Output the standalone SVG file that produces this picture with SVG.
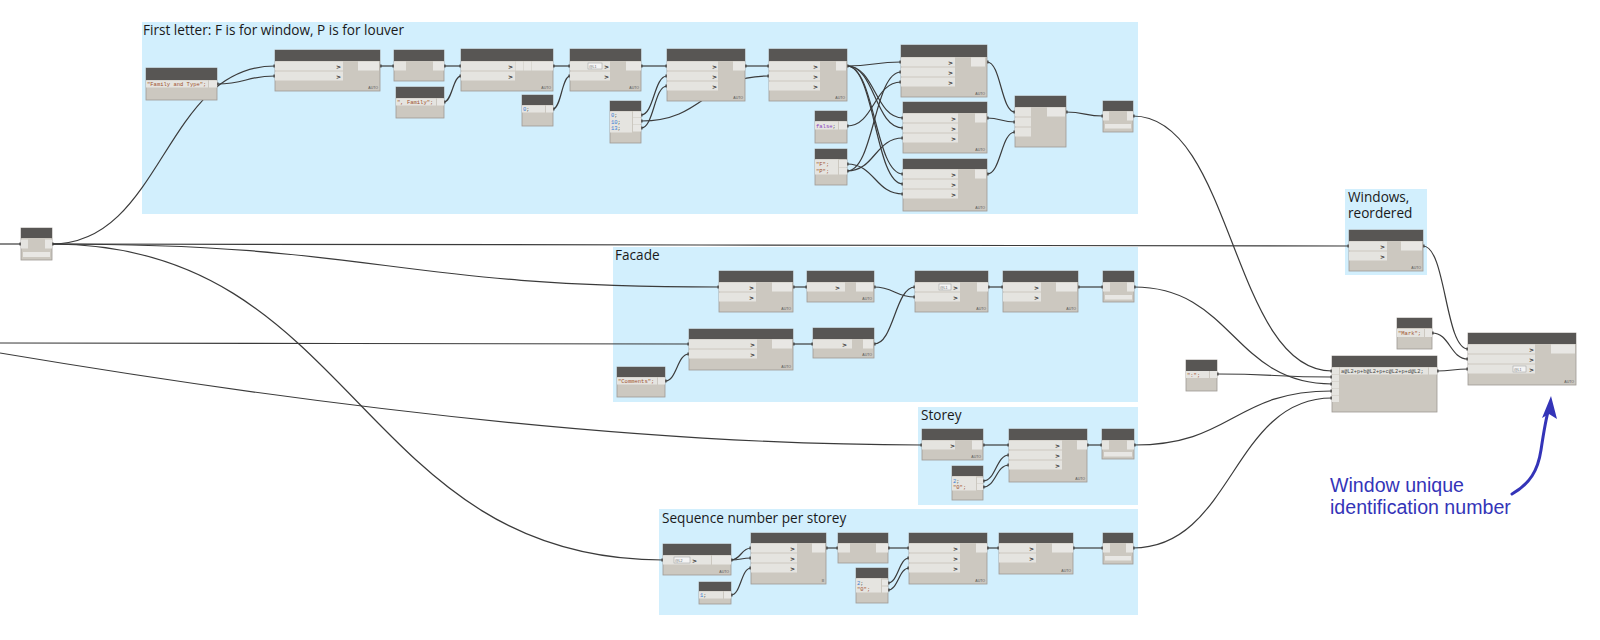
<svg xmlns="http://www.w3.org/2000/svg" width="1600" height="640" viewBox="0 0 1600 640">
<defs>
<style>
.grp{fill:#d2effd}
.gtit{font-family:"Open Sans","Noto Sans",sans-serif;font-size:13.6px;fill:#1a1a1a}
.nb{fill:#ccc8c0;stroke:#9e9a94;stroke-width:0.8}
.nh{fill:#585654}
.r{fill:#e5e4e0}
.o{fill:#e8e7e4}
.gt{font-family:"DejaVu Sans",sans-serif;font-size:6px;font-weight:bold;fill:#333}
.au{font-family:"Liberation Sans",sans-serif;font-size:3.5px;fill:#555}
.cs{font-family:"Liberation Mono",monospace;font-size:5.5px;fill:#a0522d}
.cn{font-family:"Liberation Mono",monospace;font-size:5.5px;fill:#3a7fd5}
.cf{font-family:"Liberation Mono",monospace;font-size:5.5px;fill:#8a3fbf}
.cx{font-family:"Liberation Mono",monospace;font-size:5.3px;fill:#444}
.lw{fill:#f4f4f4;stroke:#999;stroke-width:0.5}
.lt{font-family:"Liberation Sans",sans-serif;font-size:3.5px;fill:#666}
.bar{fill:#e8e7e4}
.w{fill:none;stroke:#3b3b3b;stroke-width:1.2;marker-end:url(#pt)}
.ws{marker-start:url(#pt)}
.ann{font-family:"Liberation Sans",Arial,sans-serif;font-size:19.6px;fill:#3434b8}
</style>
<marker id="pt" markerUnits="userSpaceOnUse" markerWidth="4" markerHeight="4" refX="2" refY="2" orient="auto">
<rect x="0.5" y="0.5" width="3" height="3" fill="#333"/>
</marker>
</defs>
<rect width="1600" height="640" fill="#ffffff"/>

<!-- groups -->
<g id="group-first-letter">
<rect class="grp" x="142" y="22" width="996" height="192"/>
<text class="gtit" x="143" y="35">First letter: F is for window, P is for louver</text>
</g>
<g id="group-windows-reordered">
<rect class="grp" x="1345" y="189" width="82" height="86"/>
<text class="gtit" x="1348" y="202">Windows,</text>
<text class="gtit" x="1348" y="218">reordered</text>
</g>
<g id="group-facade">
<rect class="grp" x="613" y="247" width="525" height="155"/>
<text class="gtit" x="615" y="260">Facade</text>
</g>
<g id="group-storey">
<rect class="grp" x="918" y="407" width="220" height="98"/>
<text class="gtit" x="921" y="420">Storey</text>
</g>
<g id="group-sequence">
<rect class="grp" x="659" y="509" width="479" height="106"/>
<text class="gtit" x="662" y="523">Sequence number per storey</text>
</g>

<!-- connectors -->
<g id="connectors">
<path class="w" d="M0,244 L21,244"/>
<path class="w ws" d="M52,244 C163,244 164,66 275,66"/>
<path class="w ws" d="M217,84 C246,84 246,76 275,76"/>
<path class="w ws" d="M380,66 L394,66"/>
<path class="w ws" d="M444,66 L461,66"/>
<path class="w ws" d="M444,102 C452,102 453,76 461,76"/>
<path class="w ws" d="M553,66 L570,66"/>
<path class="w ws" d="M553,109 C561,109 562,76 570,76"/>
<path class="w ws" d="M641,66 L667,66"/>
<path class="w ws" d="M641,115 C654,115 654,76 667,76"/>
<path class="w ws" d="M641,121 C705,121 705,76 769,76"/>
<path class="w ws" d="M641,128 C654,128 654,86 667,86"/>
<path class="w ws" d="M745,66 L769,66"/>
<path class="w ws" d="M847,66 C874,66 874,62 901,62"/>
<path class="w" d="M847,66 C875,66 875,118 903,118"/>
<path class="w" d="M847,66 C875,66 875,128 903,128"/>
<path class="w" d="M847,66 C875,66 875,174 903,174"/>
<path class="w" d="M847,66 C875,66 875,184 903,184"/>
<path class="w ws" d="M847,126 C874,126 874,82 901,82"/>
<path class="w ws" d="M847,171 C874,171 874,72 901,72"/>
<path class="w" d="M847,171 C875,171 875,138 903,138"/>
<path class="w ws" d="M847,164 C875,164 875,194 903,194"/>
<path class="w ws" d="M987,62 C1001,62 1001,112 1015,112"/>
<path class="w ws" d="M987,118 C1001,118 1001,122 1015,122"/>
<path class="w ws" d="M987,174 C1001,174 1001,132 1015,132"/>
<path class="w ws" d="M1066,112 C1085,112 1085,116 1103,116"/>
<path class="w ws" d="M1133,116 C1233,116 1232,371 1332,371"/>
<path class="w" d="M52,244 C700,244 700,246 1349,246"/>
<path class="w" d="M52,244 C385,244 386,287 719,287"/>
<path class="w" d="M52,244 C357,244 358,560 663,560"/>
<path class="w" d="M0,343 C340,343 350,344 689,344"/>
<path class="w" d="M0,353 C250,395 600,445 922,445"/>
<path class="w ws" d="M665,381 C677,381 677,354 689,354"/>
<path class="w ws" d="M793,287 L807,287"/>
<path class="w ws" d="M793,344 L813,344"/>
<path class="w ws" d="M874,287 C894,287 895,297 915,297"/>
<path class="w ws" d="M874,344 C894,344 895,287 915,287"/>
<path class="w ws" d="M988,287 L1003,287"/>
<path class="w ws" d="M1078,287 L1103,287"/>
<path class="w ws" d="M1134,287 C1233,287 1233,384 1332,384"/>
<path class="w ws" d="M983,445 L1009,445"/>
<path class="w ws" d="M983,481 C996,481 996,455 1009,455"/>
<path class="w ws" d="M983,487 C996,487 996,465 1009,465"/>
<path class="w ws" d="M1087,445 L1102,445"/>
<path class="w ws" d="M1134,445 C1233,445 1233,391 1332,391"/>
<path class="w ws" d="M731,560 C741,560 741,548 751,548"/>
<path class="w" d="M731,560 C741,560 741,558 751,558"/>
<path class="w ws" d="M731,595 C741,595 741,568 751,568"/>
<path class="w ws" d="M826,548 L838,548"/>
<path class="w ws" d="M888,548 L909,548"/>
<path class="w ws" d="M888,583 C898,583 899,558 909,558"/>
<path class="w ws" d="M888,590 C898,590 899,568 909,568"/>
<path class="w ws" d="M987,548 L999,548"/>
<path class="w ws" d="M1073,548 L1103,548"/>
<path class="w ws" d="M1133,548 C1233,548 1232,398 1332,398"/>
<path class="w ws" d="M1217,374 C1275,374 1274,377 1332,377"/>
<path class="w ws" d="M1437,371 C1452,371 1453,369 1468,369"/>
<path class="w ws" d="M1423,246 C1446,246 1445,349 1468,349"/>
<path class="w ws" d="M1432,333 C1450,333 1450,359 1468,359"/>
</g>

<!-- input node -->
<g id="node-input">
<rect class="nb" x="21" y="228" width="31" height="32"/>
<rect class="nh" x="21" y="228" width="31" height="10"/>
<rect class="r" x="21" y="239.5" width="7" height="9"/>
<rect class="o" x="45" y="239.5" width="7" height="9"/>
<rect class="bar" x="23" y="252" width="27" height="5"/>
</g>

<!-- First letter group nodes -->
<g id="node-family-type">
<rect class="nb" x="146" y="68" width="71" height="32"/>
<rect class="nh" x="146" y="68" width="71" height="12"/>
<rect class="r" x="146" y="80.5" width="62" height="7"/>
<rect class="o" x="209" y="80.5" width="8" height="7"/>
<text class="cs" x="147" y="86">"Family and Type";</text>
</g>
<g id="node-a">
<rect class="nb" x="275" y="50" width="105" height="41"/>
<rect class="nh" x="275" y="50" width="105" height="11"/>
<rect class="r" x="275" y="61.5" width="68" height="9"/>
<rect class="r" x="275" y="71.5" width="68" height="9"/>
<text class="gt" x="341" y="68.5" text-anchor="end">&gt;</text>
<text class="gt" x="341" y="78.5" text-anchor="end">&gt;</text>
<rect class="o" x="358" y="61.5" width="21" height="9"/>
<text class="au" x="378" y="89" text-anchor="end">AUTO</text>
</g>
<g id="node-b">
<rect class="nb" x="394" y="50" width="50" height="31"/>
<rect class="nh" x="394" y="50" width="50" height="11"/>
<rect class="r" x="394" y="61.5" width="12" height="9"/>
<rect class="o" x="433" y="61.5" width="11" height="9"/>
</g>
<g id="node-family">
<rect class="nb" x="396" y="87" width="48" height="31"/>
<rect class="nh" x="396" y="87" width="48" height="11"/>
<rect class="r" x="396" y="98.5" width="40" height="7"/>
<rect class="o" x="437" y="98.5" width="7" height="7"/>
<text class="cs" x="397" y="104">", Family";</text>
</g>
<g id="node-c">
<rect class="nb" x="461" y="49" width="92" height="42"/>
<rect class="nh" x="461" y="49" width="92" height="12"/>
<rect class="r" x="461" y="61.5" width="54" height="9"/>
<rect class="r" x="461" y="71.5" width="54" height="9"/>
<text class="gt" x="513" y="68.5" text-anchor="end">&gt;</text>
<text class="gt" x="513" y="78.5" text-anchor="end">&gt;</text>
<rect class="o" x="515.5" y="61.5" width="7.5" height="9"/>
<rect class="o" x="523.5" y="61.5" width="8" height="9"/>
<rect class="o" x="532" y="61.5" width="21" height="9"/>
<text class="au" x="551" y="89" text-anchor="end">AUTO</text>
</g>
<g id="node-zero">
<rect class="nb" x="522" y="95" width="31" height="31"/>
<rect class="nh" x="522" y="95" width="31" height="10"/>
<rect class="r" x="522" y="105.5" width="23" height="7"/>
<rect class="o" x="546" y="105.5" width="7" height="7"/>
<text class="cn" x="523" y="111">0<tspan class="cx">;</tspan></text>
</g>
<g id="node-d">
<rect class="nb" x="570" y="49" width="71" height="42"/>
<rect class="nh" x="570" y="49" width="71" height="12"/>
<rect class="r" x="570" y="61.5" width="40" height="9"/>
<rect class="r" x="570" y="71.5" width="40" height="9"/>
<rect class="lw" x="588" y="63" width="14" height="6"/>
<text class="lt" x="589" y="67.5">@L1</text>
<text class="gt" x="609" y="68.5" text-anchor="end">&gt;</text>
<text class="gt" x="609" y="78.5" text-anchor="end">&gt;</text>
<rect class="o" x="626" y="61.5" width="15" height="9"/>
<text class="au" x="639" y="89" text-anchor="end">AUTO</text>
</g>
<g id="node-numbers">
<rect class="nb" x="610" y="101" width="31" height="42"/>
<rect class="nh" x="610" y="101" width="31" height="10"/>
<rect class="r" x="610" y="111.5" width="22" height="21"/>
<rect class="o" x="633" y="111.5" width="8" height="6"/>
<rect class="o" x="633" y="118" width="8" height="6"/>
<rect class="o" x="633" y="124.5" width="8" height="7"/>
<text class="cn" x="611" y="117">0<tspan class="cx">;</tspan></text>
<text class="cn" x="611" y="123.5">10<tspan class="cx">;</tspan></text>
<text class="cn" x="611" y="130">13<tspan class="cx">;</tspan></text>
</g>
<g id="node-e">
<rect class="nb" x="667" y="49" width="78" height="52"/>
<rect class="nh" x="667" y="49" width="78" height="12"/>
<rect class="r" x="667" y="61.5" width="51" height="9"/>
<rect class="r" x="667" y="71.5" width="51" height="9"/>
<rect class="r" x="667" y="81.5" width="51" height="9"/>
<text class="gt" x="717" y="68.5" text-anchor="end">&gt;</text>
<text class="gt" x="717" y="78.5" text-anchor="end">&gt;</text>
<text class="gt" x="717" y="88.5" text-anchor="end">&gt;</text>
<rect class="o" x="733" y="61.5" width="12" height="9"/>
<text class="au" x="743" y="99" text-anchor="end">AUTO</text>
</g>
<g id="node-f">
<rect class="nb" x="769" y="49" width="78" height="52"/>
<rect class="nh" x="769" y="49" width="78" height="12"/>
<rect class="r" x="769" y="61.5" width="51" height="9"/>
<rect class="r" x="769" y="71.5" width="51" height="9"/>
<rect class="r" x="769" y="81.5" width="51" height="9"/>
<text class="gt" x="818" y="68.5" text-anchor="end">&gt;</text>
<text class="gt" x="818" y="78.5" text-anchor="end">&gt;</text>
<text class="gt" x="818" y="88.5" text-anchor="end">&gt;</text>
<rect class="o" x="836" y="61.5" width="10" height="9"/>
<text class="au" x="845" y="99" text-anchor="end">AUTO</text>
</g>
<g id="node-false">
<rect class="nb" x="815" y="111" width="32" height="32"/>
<rect class="nh" x="815" y="111" width="32" height="10"/>
<rect class="r" x="815" y="121.5" width="23" height="8"/>
<rect class="o" x="839" y="121.5" width="8" height="8"/>
<text class="cf" x="816" y="127.5">false<tspan class="cx">;</tspan></text>
</g>
<g id="node-fp">
<rect class="nb" x="815" y="149" width="32" height="36"/>
<rect class="nh" x="815" y="149" width="32" height="10"/>
<rect class="r" x="815" y="159.5" width="23" height="15"/>
<rect class="o" x="839" y="160" width="8" height="7"/>
<rect class="o" x="839" y="167.5" width="8" height="7"/>
<text class="cs" x="816" y="166">"F";</text>
<text class="cs" x="816" y="173">"P";</text>
</g>
<g id="node-g1">
<rect class="nb" x="901" y="45" width="86" height="52"/>
<rect class="nh" x="901" y="45" width="86" height="12"/>
<rect class="r" x="901" y="57.5" width="54" height="9"/>
<rect class="r" x="901" y="67.5" width="54" height="9"/>
<rect class="r" x="901" y="77.5" width="54" height="9"/>
<text class="gt" x="953" y="64.5" text-anchor="end">&gt;</text>
<text class="gt" x="953" y="74.5" text-anchor="end">&gt;</text>
<text class="gt" x="953" y="84.5" text-anchor="end">&gt;</text>
<rect class="o" x="971" y="57.5" width="14" height="9"/>
<text class="au" x="985" y="95" text-anchor="end">AUTO</text>
</g>
<g id="node-g2">
<rect class="nb" x="903" y="102" width="84" height="51"/>
<rect class="nh" x="903" y="102" width="84" height="11"/>
<rect class="r" x="903" y="113.5" width="55" height="9"/>
<rect class="r" x="903" y="123.5" width="55" height="9"/>
<rect class="r" x="903" y="133.5" width="55" height="9"/>
<text class="gt" x="956" y="120.5" text-anchor="end">&gt;</text>
<text class="gt" x="956" y="130.5" text-anchor="end">&gt;</text>
<text class="gt" x="956" y="140.5" text-anchor="end">&gt;</text>
<rect class="o" x="975" y="113.5" width="11" height="9"/>
<text class="au" x="985" y="151" text-anchor="end">AUTO</text>
</g>
<g id="node-g3">
<rect class="nb" x="903" y="159" width="84" height="52"/>
<rect class="nh" x="903" y="159" width="84" height="10"/>
<rect class="r" x="903" y="169.5" width="55" height="9"/>
<rect class="r" x="903" y="179.5" width="55" height="9"/>
<rect class="r" x="903" y="189.5" width="55" height="9"/>
<text class="gt" x="956" y="176.5" text-anchor="end">&gt;</text>
<text class="gt" x="956" y="186.5" text-anchor="end">&gt;</text>
<text class="gt" x="956" y="196.5" text-anchor="end">&gt;</text>
<rect class="o" x="975" y="169.5" width="11" height="9"/>
<text class="au" x="985" y="209" text-anchor="end">AUTO</text>
</g>
<g id="node-h">
<rect class="nb" x="1015" y="96" width="51" height="51"/>
<rect class="nh" x="1015" y="96" width="51" height="11"/>
<rect class="r" x="1015" y="107.5" width="16" height="9"/>
<rect class="r" x="1015" y="117.5" width="16" height="9"/>
<rect class="r" x="1015" y="127.5" width="16" height="9"/>
<rect class="o" x="1047" y="107.5" width="18" height="9"/>
</g>
<g id="node-i">
<rect class="nb" x="1103" y="101" width="30" height="31"/>
<rect class="nh" x="1103" y="101" width="30" height="10"/>
<rect class="r" x="1103" y="111.5" width="6" height="9"/>
<rect class="o" x="1127" y="111.5" width="6" height="9"/>
<rect class="bar" x="1105" y="124" width="26" height="4.5"/>
</g>

<!-- Windows reordered -->
<g id="node-windows">
<rect class="nb" x="1349" y="230" width="74" height="41"/>
<rect class="nh" x="1349" y="230" width="74" height="11"/>
<rect class="r" x="1349" y="241.5" width="38" height="9"/>
<rect class="r" x="1349" y="251.5" width="38" height="9"/>
<text class="gt" x="1385" y="248.5" text-anchor="end">&gt;</text>
<text class="gt" x="1385" y="258.5" text-anchor="end">&gt;</text>
<rect class="o" x="1401" y="241.5" width="21" height="9"/>
<text class="au" x="1421" y="269" text-anchor="end">AUTO</text>
</g>

<!-- Facade -->
<g id="node-j1">
<rect class="nb" x="719" y="271" width="74" height="41"/>
<rect class="nh" x="719" y="271" width="74" height="11"/>
<rect class="r" x="719" y="282.5" width="37" height="9"/>
<rect class="r" x="719" y="292.5" width="37" height="9"/>
<text class="gt" x="754" y="289.5" text-anchor="end">&gt;</text>
<text class="gt" x="754" y="299.5" text-anchor="end">&gt;</text>
<rect class="o" x="772" y="282.5" width="20" height="9"/>
<text class="au" x="791" y="310" text-anchor="end">AUTO</text>
</g>
<g id="node-j3">
<rect class="nb" x="807" y="271" width="67" height="31"/>
<rect class="nh" x="807" y="271" width="67" height="11"/>
<rect class="r" x="807" y="282.5" width="38" height="9"/>
<text class="gt" x="840" y="289.5" text-anchor="end">&gt;</text>
<rect class="o" x="856" y="282.5" width="17" height="9"/>
<text class="au" x="872" y="300" text-anchor="end">AUTO</text>
</g>
<g id="node-j2">
<rect class="nb" x="689" y="329" width="104" height="41"/>
<rect class="nh" x="689" y="329" width="104" height="10"/>
<rect class="r" x="689" y="339.5" width="68" height="9"/>
<rect class="r" x="689" y="349.5" width="68" height="9"/>
<text class="gt" x="755" y="346.5" text-anchor="end">&gt;</text>
<text class="gt" x="755" y="356.5" text-anchor="end">&gt;</text>
<rect class="o" x="772" y="339.5" width="20" height="9"/>
<text class="au" x="791" y="368" text-anchor="end">AUTO</text>
</g>
<g id="node-comments">
<rect class="nb" x="617" y="367" width="48" height="30"/>
<rect class="nh" x="617" y="367" width="48" height="10"/>
<rect class="r" x="617" y="377.5" width="40" height="7"/>
<rect class="o" x="658" y="377.5" width="7" height="7"/>
<text class="cs" x="618" y="383">"Comments";</text>
</g>
<g id="node-j4">
<rect class="nb" x="813" y="328" width="61" height="30"/>
<rect class="nh" x="813" y="328" width="61" height="11"/>
<rect class="r" x="813" y="339.5" width="39" height="9"/>
<text class="gt" x="847" y="346.5" text-anchor="end">&gt;</text>
<rect class="o" x="863" y="339.5" width="10" height="9"/>
<text class="au" x="872" y="356" text-anchor="end">AUTO</text>
</g>
<g id="node-j5">
<rect class="nb" x="915" y="271" width="73" height="41"/>
<rect class="nh" x="915" y="271" width="73" height="11"/>
<rect class="r" x="915" y="282.5" width="45" height="9"/>
<rect class="r" x="915" y="292.5" width="45" height="9"/>
<rect class="lw" x="939" y="284" width="12" height="6"/>
<text class="lt" x="940" y="288.5">@L1</text>
<text class="gt" x="958" y="289.5" text-anchor="end">&gt;</text>
<text class="gt" x="958" y="299.5" text-anchor="end">&gt;</text>
<rect class="o" x="977" y="282.5" width="11" height="9"/>
<text class="au" x="986" y="310" text-anchor="end">AUTO</text>
</g>
<g id="node-j6">
<rect class="nb" x="1003" y="271" width="75" height="41"/>
<rect class="nh" x="1003" y="271" width="75" height="11"/>
<rect class="r" x="1003" y="282.5" width="38" height="9"/>
<rect class="r" x="1003" y="292.5" width="38" height="9"/>
<text class="gt" x="1039" y="289.5" text-anchor="end">&gt;</text>
<text class="gt" x="1039" y="299.5" text-anchor="end">&gt;</text>
<rect class="o" x="1056" y="282.5" width="21" height="9"/>
<text class="au" x="1076" y="310" text-anchor="end">AUTO</text>
</g>
<g id="node-j7">
<rect class="nb" x="1103" y="271" width="31" height="31"/>
<rect class="nh" x="1103" y="271" width="31" height="11"/>
<rect class="r" x="1103" y="282.5" width="7" height="9"/>
<rect class="o" x="1127" y="282.5" width="7" height="9"/>
<rect class="bar" x="1105" y="295" width="27" height="4.5"/>
</g>

<!-- Storey -->
<g id="node-k1">
<rect class="nb" x="922" y="429" width="61" height="31"/>
<rect class="nh" x="922" y="429" width="61" height="11"/>
<rect class="r" x="922" y="440.5" width="33" height="9"/>
<text class="gt" x="955" y="447.5" text-anchor="end">&gt;</text>
<rect class="o" x="972" y="440.5" width="10" height="9"/>
<text class="au" x="981" y="458" text-anchor="end">AUTO</text>
</g>
<g id="node-k-code">
<rect class="nb" x="952" y="466" width="31" height="34"/>
<rect class="nh" x="952" y="466" width="31" height="10"/>
<rect class="r" x="952" y="476.5" width="24" height="14"/>
<rect class="o" x="977" y="477.5" width="6" height="6"/>
<rect class="o" x="977" y="484" width="6" height="6"/>
<text class="cn" x="953" y="482.5">2<tspan class="cx">;</tspan></text>
<text class="cs" x="953" y="489">"0";</text>
</g>
<g id="node-k2">
<rect class="nb" x="1009" y="429" width="78" height="53"/>
<rect class="nh" x="1009" y="429" width="78" height="11"/>
<rect class="r" x="1009" y="440.5" width="53" height="9"/>
<rect class="r" x="1009" y="450.5" width="53" height="9"/>
<rect class="r" x="1009" y="460.5" width="53" height="9"/>
<text class="gt" x="1060" y="447.5" text-anchor="end">&gt;</text>
<text class="gt" x="1060" y="457.5" text-anchor="end">&gt;</text>
<text class="gt" x="1060" y="467.5" text-anchor="end">&gt;</text>
<rect class="o" x="1077" y="440.5" width="10" height="9"/>
<text class="au" x="1085" y="480" text-anchor="end">AUTO</text>
</g>
<g id="node-k3">
<rect class="nb" x="1102" y="429" width="32" height="30"/>
<rect class="nh" x="1102" y="429" width="32" height="11"/>
<rect class="r" x="1102" y="440.5" width="7" height="9"/>
<rect class="o" x="1127" y="440.5" width="7" height="9"/>
<rect class="bar" x="1104" y="452" width="28" height="4.5"/>
</g>

<!-- Sequence -->
<g id="node-s1">
<rect class="nb" x="663" y="544" width="68" height="31"/>
<rect class="nh" x="663" y="544" width="68" height="11"/>
<rect class="r" x="663" y="555.5" width="48" height="9"/>
<rect class="lw" x="674" y="557" width="16" height="6"/>
<text class="lt" x="675" y="561.5">@L2</text>
<text class="gt" x="697" y="562.5" text-anchor="end">&gt;</text>
<rect class="o" x="712" y="555.5" width="19" height="9"/>
<text class="au" x="729" y="573" text-anchor="end">AUTO</text>
</g>
<g id="node-one">
<rect class="nb" x="699" y="582" width="32" height="22"/>
<rect class="nh" x="699" y="582" width="32" height="9"/>
<rect class="r" x="699" y="591.5" width="24" height="7"/>
<rect class="o" x="724" y="591.5" width="7" height="7"/>
<text class="cn" x="700" y="597">1<tspan class="cx">;</tspan></text>
</g>
<g id="node-s2">
<rect class="nb" x="751" y="533" width="75" height="51"/>
<rect class="nh" x="751" y="533" width="75" height="10"/>
<rect class="r" x="751" y="543.5" width="46" height="9"/>
<rect class="r" x="751" y="553.5" width="46" height="9"/>
<rect class="r" x="751" y="563.5" width="46" height="9"/>
<text class="gt" x="795" y="550.5" text-anchor="end">&gt;</text>
<text class="gt" x="795" y="560.5" text-anchor="end">&gt;</text>
<text class="gt" x="795" y="570.5" text-anchor="end">&gt;</text>
<rect class="o" x="812" y="543.5" width="13" height="9"/>
<text class="au" x="824" y="582" text-anchor="end">lll</text>
</g>
<g id="node-s3">
<rect class="nb" x="838" y="533" width="50" height="30"/>
<rect class="nh" x="838" y="533" width="50" height="10"/>
<rect class="r" x="838" y="543.5" width="12" height="9"/>
<rect class="o" x="876" y="543.5" width="12" height="9"/>
</g>
<g id="node-s-code">
<rect class="nb" x="856" y="568" width="32" height="35"/>
<rect class="nh" x="856" y="568" width="32" height="10"/>
<rect class="r" x="856" y="578.5" width="25" height="14"/>
<rect class="o" x="882" y="579.5" width="6" height="6"/>
<rect class="o" x="882" y="586.5" width="6" height="6"/>
<text class="cn" x="857" y="584.5">2<tspan class="cx">;</tspan></text>
<text class="cs" x="857" y="591">"0";</text>
</g>
<g id="node-s4">
<rect class="nb" x="909" y="533" width="78" height="51"/>
<rect class="nh" x="909" y="533" width="78" height="10"/>
<rect class="r" x="909" y="543.5" width="51" height="9"/>
<rect class="r" x="909" y="553.5" width="51" height="9"/>
<rect class="r" x="909" y="563.5" width="51" height="9"/>
<text class="gt" x="958" y="550.5" text-anchor="end">&gt;</text>
<text class="gt" x="958" y="560.5" text-anchor="end">&gt;</text>
<text class="gt" x="958" y="570.5" text-anchor="end">&gt;</text>
<rect class="o" x="976" y="543.5" width="11" height="9"/>
<text class="au" x="985" y="582" text-anchor="end">AUTO</text>
</g>
<g id="node-s5">
<rect class="nb" x="999" y="533" width="74" height="41"/>
<rect class="nh" x="999" y="533" width="74" height="10"/>
<rect class="r" x="999" y="543.5" width="37" height="9"/>
<rect class="r" x="999" y="553.5" width="37" height="9"/>
<text class="gt" x="1034" y="550.5" text-anchor="end">&gt;</text>
<text class="gt" x="1034" y="560.5" text-anchor="end">&gt;</text>
<rect class="o" x="1052" y="543.5" width="21" height="9"/>
<text class="au" x="1071" y="572" text-anchor="end">AUTO</text>
</g>
<g id="node-s6">
<rect class="nb" x="1103" y="533" width="30" height="31"/>
<rect class="nh" x="1103" y="533" width="30" height="10"/>
<rect class="r" x="1103" y="543.5" width="7" height="9"/>
<rect class="o" x="1126" y="543.5" width="7" height="9"/>
<rect class="bar" x="1105" y="556" width="26" height="4.5"/>
</g>

<!-- right side -->
<g id="node-colon">
<rect class="nb" x="1186" y="360" width="31" height="31"/>
<rect class="nh" x="1186" y="360" width="31" height="11"/>
<rect class="r" x="1186" y="371" width="23" height="7"/>
<rect class="o" x="1210" y="371" width="7" height="7"/>
<text class="cs" x="1187" y="376.5">":";</text>
</g>
<g id="node-format">
<rect class="nb" x="1332" y="356" width="105" height="56"/>
<rect class="nh" x="1332" y="356" width="105" height="11"/>
<rect class="r" x="1332" y="367.5" width="7" height="6.5"/>
<rect class="r" x="1332" y="374.5" width="7" height="6.5"/>
<rect class="r" x="1332" y="381.5" width="7" height="6.5"/>
<rect class="r" x="1332" y="388.5" width="7" height="6.5"/>
<rect class="r" x="1332" y="395.5" width="7" height="6.5"/>
<rect class="r" x="1340" y="367.5" width="88" height="7"/>
<rect class="o" x="1429" y="367.5" width="8" height="7"/>
<text class="cx" x="1341" y="373">a@L2+p+b@L2+p+c@L2+p+d@L2;</text>
</g>
<g id="node-mark">
<rect class="nb" x="1397" y="318" width="35" height="31"/>
<rect class="nh" x="1397" y="318" width="35" height="10"/>
<rect class="r" x="1397" y="329" width="27" height="8"/>
<rect class="o" x="1425" y="329" width="7" height="8"/>
<text class="cs" x="1398" y="335">"Mark";</text>
</g>
<g id="node-final">
<rect class="nb" x="1468" y="333" width="108" height="52"/>
<rect class="nh" x="1468" y="333" width="108" height="11"/>
<rect class="r" x="1468" y="344.5" width="67" height="9"/>
<rect class="r" x="1468" y="354.5" width="67" height="9"/>
<rect class="r" x="1468" y="364.5" width="67" height="9"/>
<rect class="lw" x="1513" y="366" width="13" height="6"/>
<text class="lt" x="1514" y="370.5">@L1</text>
<text class="gt" x="1534" y="351.5" text-anchor="end">&gt;</text>
<text class="gt" x="1534" y="361.5" text-anchor="end">&gt;</text>
<text class="gt" x="1534" y="371.5" text-anchor="end">&gt;</text>
<rect class="o" x="1551" y="344.5" width="24" height="9"/>
<text class="au" x="1574" y="383" text-anchor="end">AUTO</text>
</g>

<!-- annotation -->
<g id="annotation">
<text class="ann" x="1330" y="492">Window unique</text>
<text class="ann" x="1330" y="514">identification number</text>
<path d="M1512,494 C1530,484 1538,470 1541,450 C1544,430 1546,418 1549,408" fill="none" stroke="#3434b8" stroke-width="3" stroke-linecap="round"/>
<polygon points="1551,396 1557,419 1549,414 1542,418" fill="#3434b8"/>
</g>
</svg>
